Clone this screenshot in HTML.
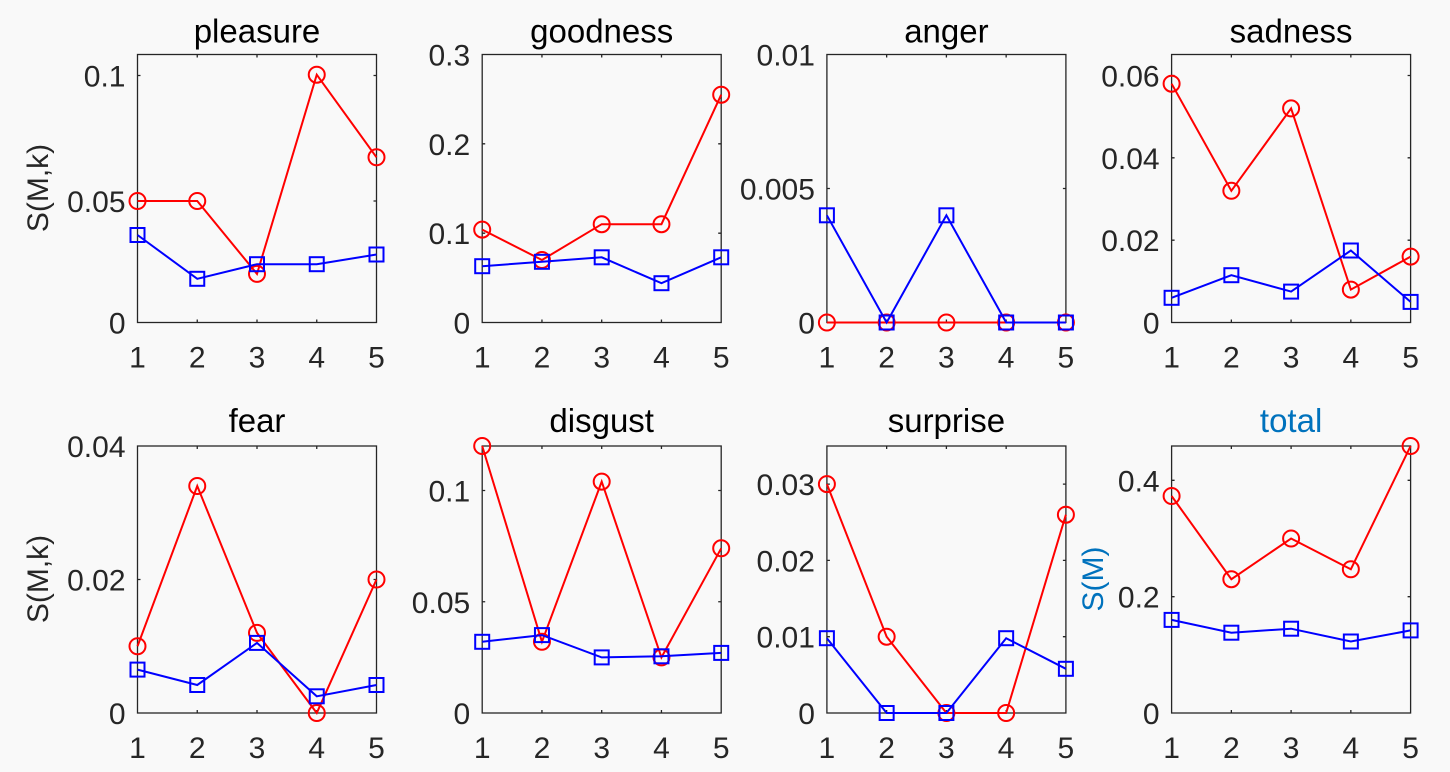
<!DOCTYPE html>
<html><head><meta charset="utf-8"><style>
html,body{margin:0;padding:0;background:#f9f9f9;}
svg{display:block;font-family:"Liberation Sans",sans-serif;}
.ax{fill:none;stroke:#262626;stroke-width:1.3}
.tk{stroke:#262626;stroke-width:1.3}
.tl{font-size:30px;fill:#262626}
.yl{font-size:30px;fill:#262626;text-anchor:end}
.xl{font-size:30px;fill:#262626;text-anchor:middle}
.tt{font-size:33px;fill:#000;text-anchor:middle}
.r{fill:none;stroke:#ff0000;stroke-width:2}
.b{fill:none;stroke:#0000ff;stroke-width:2}
</style></head><body>
<svg width="1450" height="772" viewBox="0 0 1450 772">
<defs>
<g id="xt">
<path class="tk" d="M59.75,268v-3M119.5,268v-3M179.25,268v-3M59.75,0v3M119.5,0v3M179.25,0v3"/>
<text class="xl" x="0" y="313">1</text><text class="xl" x="59.75" y="313">2</text><text class="xl" x="119.5" y="313">3</text><text class="xl" x="179.25" y="313">4</text><text class="xl" x="239" y="313">5</text>
</g>
<g id="xt2">
<path class="tk" d="M59.75,267v-3M119.5,267v-3M179.25,267v-3M59.75,0v3M119.5,0v3M179.25,0v3"/>
<text class="xl" x="0" y="312">1</text><text class="xl" x="59.75" y="312">2</text><text class="xl" x="119.5" y="312">3</text><text class="xl" x="179.25" y="312">4</text><text class="xl" x="239" y="312">5</text>
</g>
</defs>

<text class="tl" transform="translate(48,188) rotate(-90)" text-anchor="middle">S(M,k)</text>
<text class="tl" transform="translate(48,579) rotate(-90)" text-anchor="middle">S(M,k)</text>
<text transform="translate(1103,579) rotate(-90)" text-anchor="middle" style="font-size:30px;fill:#0072BD">S(M)</text>

<!-- P1 pleasure -->
<g transform="translate(137.5,54.5)">
<rect class="ax" x="0" y="0" width="239" height="268"/>
<use href="#xt"/>
<path class="tk" d="M0,21h3M239,21h-3M0,146.5h3M239,146.5h-3"/>
<text class="yl" x="-12" y="279">0</text><text class="yl" x="-12" y="157.5">0.05</text><text class="yl" x="-12" y="32">0.1</text>
<text class="tt" x="119.5" y="-12">pleasure</text>
<polyline class="r" points="0,146.5 59.75,146.5 119.5,219.4 179.25,20.2 239,102.8"/>
<g class="r"><circle cx="0" cy="146.5" r="8"/><circle cx="59.75" cy="146.5" r="8"/><circle cx="119.5" cy="219.4" r="8"/><circle cx="179.25" cy="20.2" r="8"/><circle cx="239" cy="102.8" r="8"/></g>
<polyline class="b" points="0,180.5 59.75,224.3 119.5,209.7 179.25,209.7 239,200"/>
<g class="b"><rect x="-7" y="173.5" width="14" height="14"/><rect x="52.75" y="217.3" width="14" height="14"/><rect x="112.5" y="202.7" width="14" height="14"/><rect x="172.25" y="202.7" width="14" height="14"/><rect x="232" y="193" width="14" height="14"/></g>
</g>

<!-- P2 goodness -->
<g transform="translate(482.2,54.5)">
<rect class="ax" x="0" y="0" width="239" height="268"/>
<use href="#xt"/>
<path class="tk" d="M0,178.7h3M239,178.7h-3M0,89.3h3M239,89.3h-3"/>
<text class="yl" x="-12" y="279">0</text><text class="yl" x="-12" y="189.7">0.1</text><text class="yl" x="-12" y="100.3">0.2</text><text class="yl" x="-12" y="11">0.3</text>
<text class="tt" x="119.5" y="-12">goodness</text>
<polyline class="r" points="0,175.1 59.75,205.5 119.5,169.7 179.25,169.7 239,40.2"/>
<g class="r"><circle cx="0" cy="175.1" r="8"/><circle cx="59.75" cy="205.5" r="8"/><circle cx="119.5" cy="169.7" r="8"/><circle cx="179.25" cy="169.7" r="8"/><circle cx="239" cy="40.2" r="8"/></g>
<polyline class="b" points="0,211.7 59.75,207.3 119.5,202.8 179.25,228.7 239,202.8"/>
<g class="b"><rect x="-7" y="204.7" width="14" height="14"/><rect x="52.75" y="200.3" width="14" height="14"/><rect x="112.5" y="195.8" width="14" height="14"/><rect x="172.25" y="221.7" width="14" height="14"/><rect x="232" y="195.8" width="14" height="14"/></g>
</g>

<!-- P3 anger -->
<g transform="translate(826.9,54.5)">
<rect class="ax" x="0" y="0" width="239" height="268"/>
<use href="#xt"/>
<path class="tk" d="M0,134h3M239,134h-3"/>
<text class="yl" x="-12" y="279">0</text><text class="yl" x="-12" y="145">0.005</text><text class="yl" x="-12" y="11">0.01</text>
<text class="tt" x="119.5" y="-12">anger</text>
<polyline class="r" points="0,268 59.75,268 119.5,268 179.25,268 239,268"/>
<g class="r"><circle cx="0" cy="268" r="8"/><circle cx="59.75" cy="268" r="8"/><circle cx="119.5" cy="268" r="8"/><circle cx="179.25" cy="268" r="8"/><circle cx="239" cy="268" r="8"/></g>
<polyline class="b" points="0,160.8 59.75,268 119.5,160.8 179.25,268 239,268"/>
<g class="b"><rect x="-7" y="153.8" width="14" height="14"/><rect x="52.75" y="261" width="14" height="14"/><rect x="112.5" y="153.8" width="14" height="14"/><rect x="172.25" y="261" width="14" height="14"/><rect x="232" y="261" width="14" height="14"/></g>
</g>

<!-- P4 sadness -->
<g transform="translate(1171.6,54.5)">
<rect class="ax" x="0" y="0" width="239" height="268"/>
<use href="#xt"/>
<path class="tk" d="M0,185.7h3M239,185.7h-3M0,103.3h3M239,103.3h-3M0,21h3M239,21h-3"/>
<text class="yl" x="-12" y="279">0</text><text class="yl" x="-12" y="196.7">0.02</text><text class="yl" x="-12" y="114.3">0.04</text><text class="yl" x="-12" y="32">0.06</text>
<text class="tt" x="119.5" y="-12">sadness</text>
<polyline class="r" points="0,29.2 59.75,136.3 119.5,53.9 179.25,235.1 239,202.1"/>
<g class="r"><circle cx="0" cy="29.2" r="8"/><circle cx="59.75" cy="136.3" r="8"/><circle cx="119.5" cy="53.9" r="8"/><circle cx="179.25" cy="235.1" r="8"/><circle cx="239" cy="202.1" r="8"/></g>
<polyline class="b" points="0,243.3 59.75,220.7 119.5,237.1 179.25,196 239,247.4"/>
<g class="b"><rect x="-7" y="236.3" width="14" height="14"/><rect x="52.75" y="213.7" width="14" height="14"/><rect x="112.5" y="230.1" width="14" height="14"/><rect x="172.25" y="189" width="14" height="14"/><rect x="232" y="240.4" width="14" height="14"/></g>
</g>

<!-- P5 fear -->
<g transform="translate(137.5,446)">
<rect class="ax" x="0" y="0" width="239" height="267"/>
<use href="#xt2"/>
<path class="tk" d="M0,133.5h3M239,133.5h-3"/>
<text class="yl" x="-12" y="278">0</text><text class="yl" x="-12" y="144.5">0.02</text><text class="yl" x="-12" y="11">0.04</text>
<text class="tt" x="119.5" y="-14">fear</text>
<polyline class="r" points="0,200.25 59.75,40 119.5,186.9 179.25,267 239,133.5"/>
<g class="r"><circle cx="0" cy="200.25" r="8"/><circle cx="59.75" cy="40" r="8"/><circle cx="119.5" cy="186.9" r="8"/><circle cx="179.25" cy="267" r="8"/><circle cx="239" cy="133.5" r="8"/></g>
<polyline class="b" points="0,223.6 59.75,239 119.5,196.9 179.25,250.3 239,239"/>
<g class="b"><rect x="-7" y="216.6" width="14" height="14"/><rect x="52.75" y="232" width="14" height="14"/><rect x="112.5" y="189.9" width="14" height="14"/><rect x="172.25" y="243.3" width="14" height="14"/><rect x="232" y="232" width="14" height="14"/></g>
</g>

<!-- P6 disgust -->
<g transform="translate(482.2,446)">
<rect class="ax" x="0" y="0" width="239" height="267"/>
<use href="#xt2"/>
<path class="tk" d="M0,155.75h3M239,155.75h-3M0,44.5h3M239,44.5h-3"/>
<text class="yl" x="-12" y="278">0</text><text class="yl" x="-12" y="166.75">0.05</text><text class="yl" x="-12" y="55.5">0.1</text>
<text class="tt" x="119.5" y="-14">disgust</text>
<polyline class="r" points="0,0 59.75,195.8 119.5,35.6 179.25,211.4 239,102.3"/>
<g class="r"><circle cx="0" cy="0" r="8"/><circle cx="59.75" cy="195.8" r="8"/><circle cx="119.5" cy="35.6" r="8"/><circle cx="179.25" cy="211.4" r="8"/><circle cx="239" cy="102.3" r="8"/></g>
<polyline class="b" points="0,195.8 59.75,189.1 119.5,211.4 179.25,210.3 239,206.9"/>
<g class="b"><rect x="-7" y="188.8" width="14" height="14"/><rect x="52.75" y="182.1" width="14" height="14"/><rect x="112.5" y="204.4" width="14" height="14"/><rect x="172.25" y="203.3" width="14" height="14"/><rect x="232" y="199.9" width="14" height="14"/></g>
</g>

<!-- P7 surprise -->
<g transform="translate(826.9,446)">
<rect class="ax" x="0" y="0" width="239" height="267"/>
<use href="#xt2"/>
<path class="tk" d="M0,190.7h3M239,190.7h-3M0,114.4h3M239,114.4h-3M0,38.1h3M239,38.1h-3"/>
<text class="yl" x="-12" y="278">0</text><text class="yl" x="-12" y="201.7">0.01</text><text class="yl" x="-12" y="125.4">0.02</text><text class="yl" x="-12" y="49.1">0.03</text>
<text class="tt" x="119.5" y="-14">surprise</text>
<polyline class="r" points="0,38.1 59.75,190.7 119.5,267 179.25,267 239,68.7"/>
<g class="r"><circle cx="0" cy="38.1" r="8"/><circle cx="59.75" cy="190.7" r="8"/><circle cx="119.5" cy="267" r="8"/><circle cx="179.25" cy="267" r="8"/><circle cx="239" cy="68.7" r="8"/></g>
<polyline class="b" points="0,192.2 59.75,267 119.5,267 179.25,192.2 239,222.8"/>
<g class="b"><rect x="-7" y="185.2" width="14" height="14"/><rect x="52.75" y="260" width="14" height="14"/><rect x="112.5" y="260" width="14" height="14"/><rect x="172.25" y="185.2" width="14" height="14"/><rect x="232" y="215.8" width="14" height="14"/></g>
</g>

<!-- P8 total -->
<g transform="translate(1171.6,446)">
<rect class="ax" x="0" y="0" width="239" height="267"/>
<use href="#xt2"/>
<path class="tk" d="M0,150.7h3M239,150.7h-3M0,34.3h3M239,34.3h-3"/>
<text class="yl" x="-12" y="278">0</text><text class="yl" x="-12" y="161.7">0.2</text><text class="yl" x="-12" y="45.3">0.4</text>
<text class="tt" x="119.5" y="-14" style="fill:#0072BD">total</text>
<polyline class="r" points="0,50 59.75,133.2 119.5,92.5 179.25,123.3 239,0"/>
<g class="r"><circle cx="0" cy="50" r="8"/><circle cx="59.75" cy="133.2" r="8"/><circle cx="119.5" cy="92.5" r="8"/><circle cx="179.25" cy="123.3" r="8"/><circle cx="239" cy="0" r="8"/></g>
<polyline class="b" points="0,173.9 59.75,186.7 119.5,182.7 179.25,195.5 239,184.4"/>
<g class="b"><rect x="-7" y="166.9" width="14" height="14"/><rect x="52.75" y="179.7" width="14" height="14"/><rect x="112.5" y="175.7" width="14" height="14"/><rect x="172.25" y="188.5" width="14" height="14"/><rect x="232" y="177.4" width="14" height="14"/></g>
</g>
</svg>
</body></html>
